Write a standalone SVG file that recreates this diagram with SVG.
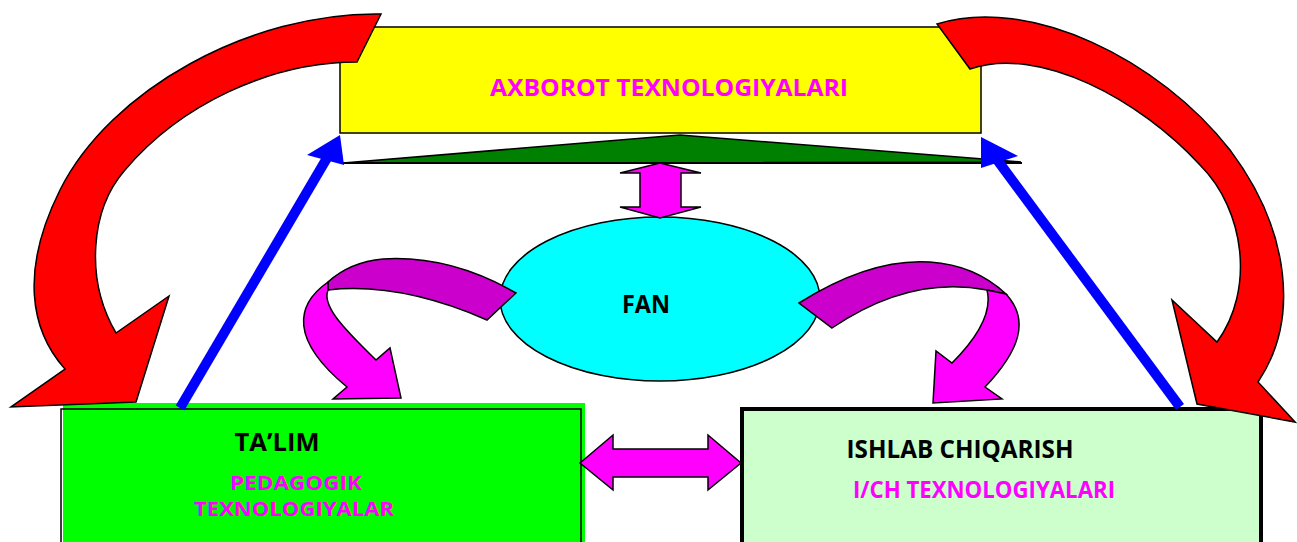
<svg xmlns="http://www.w3.org/2000/svg" width="1297" height="542" viewBox="0 0 1297 542">
<style>
  .ol { stroke: #000; stroke-width: 1.5; stroke-linejoin: miter; }
  .red { fill: #FF0000; }
  .pink { fill: #FF00FF; }
  .dark { fill: #CC00CC; }
  .blue { stroke: #0000FF; stroke-width: 10; fill: none; }
  .bluehead { fill: #0000FF; }
  .t { font-family: "Open Sans", "Noto Sans", "Liberation Sans", sans-serif; font-weight: bold; text-anchor: middle; }
  .blk { fill: #000; }
  .mag { fill: #FF00FF; }
</style>

<g id="axborot">
  <rect x="340" y="27" width="641" height="106" fill="#FFFF00" class="ol"/>
  <text class="t mag" x="669" y="96" font-size="24" textLength="358" lengthAdjust="spacingAndGlyphs">AXBOROT TEXNOLOGIYALARI</text>
</g>

<g id="triangle">
  <polygon points="343,163 680,135 1021,162" fill="#008000" class="ol"/>
  <line x1="342" y1="163" x2="1022" y2="163" stroke="#000" stroke-width="2.2"/>
</g>

<g id="fan">
  <ellipse cx="660" cy="299" rx="160" ry="82" fill="#00FFFF" class="ol"/>
  <text class="t blk" x="646" y="313" font-size="25" textLength="48" lengthAdjust="spacingAndGlyphs">FAN</text>
</g>

<g id="talim">
  <rect x="63" y="403" width="522" height="150" fill="#00FF00"/>
  <rect x="61" y="409" width="520" height="150" fill="none" class="ol"/>
  <text class="t blk" x="277" y="451" font-size="25" textLength="85" lengthAdjust="spacingAndGlyphs">TA’LIM</text>
  <text class="t mag" x="296" y="490" font-size="20" textLength="132" lengthAdjust="spacingAndGlyphs">PEDAGOGIK</text>
  <text class="t mag" x="294" y="516" font-size="20" textLength="200" lengthAdjust="spacingAndGlyphs">TEXNOLOGIYALAR</text>
</g>

<g id="ishlab">
  <rect x="742" y="409" width="519" height="150" fill="#CCFFCC" stroke="#000" stroke-width="4"/>
  <text class="t blk" x="960" y="458" font-size="25" textLength="227" lengthAdjust="spacingAndGlyphs">ISHLAB CHIQARISH</text>
  <text class="t mag" x="984" y="498" font-size="23" textLength="262" lengthAdjust="spacingAndGlyphs">I/CH TEXNOLOGIYALARI</text>
</g>

<g id="connectors">
  <path class="red ol" d="M381,14 C250,12 110,90 60,190 C20,270 30,330 65,369 L11,407 L136,402 L169,296 L116,333 C85,280 90,210 125,170 C180,105 270,62 357,62 Z"/>
  <path class="red ol" d="M937,24 C1030,-5 1160,60 1230,150 C1290,230 1300,320 1258,382 L1295,422 L1197,404 L1172,300 L1217,342 C1255,290 1245,210 1200,165 C1140,100 1040,45 970,69 Z"/>

  <line class="blue" x1="180" y1="408" x2="327" y2="158"/>
  <polygon class="bluehead" points="340,135 307,155 344,165"/>
  <line class="blue" x1="1180" y1="407" x2="998" y2="161"/>
  <polygon class="bluehead" points="981,137 1018,156 981,168"/>

  <polygon class="pink ol" points="660,163 701,173 681,173 681,207 701,207 660,218 620,207 640,207 640,173 620,173"/>

  <polygon class="pink ol" points="580,463 613,435 613,449 708,449 708,435 741,463 708,490 708,477 613,477 613,490"/>

  <path class="dark ol" d="M516,293 Q450,255 383,259 Q350,262 328,282 L328,290 Q400,282 487,320 Z"/>
  <path class="pink ol" d="M328,282 C295,305 290,340 347,387 L333,399 L401,398 L390,348 L376,360 C340,325 322,305 328,290 Z"/>

  <path class="dark ol" d="M799,303 Q870,258 930,262 Q975,265 1006,294 L987,290 Q910,275 832,328 Z"/>
  <path class="pink ol" d="M1006,294 C1030,320 1020,350 985,387 L1002,399 L933,403 L936,351 L952,363 C980,335 992,310 987,290 Z"/>
</g>
</svg>
